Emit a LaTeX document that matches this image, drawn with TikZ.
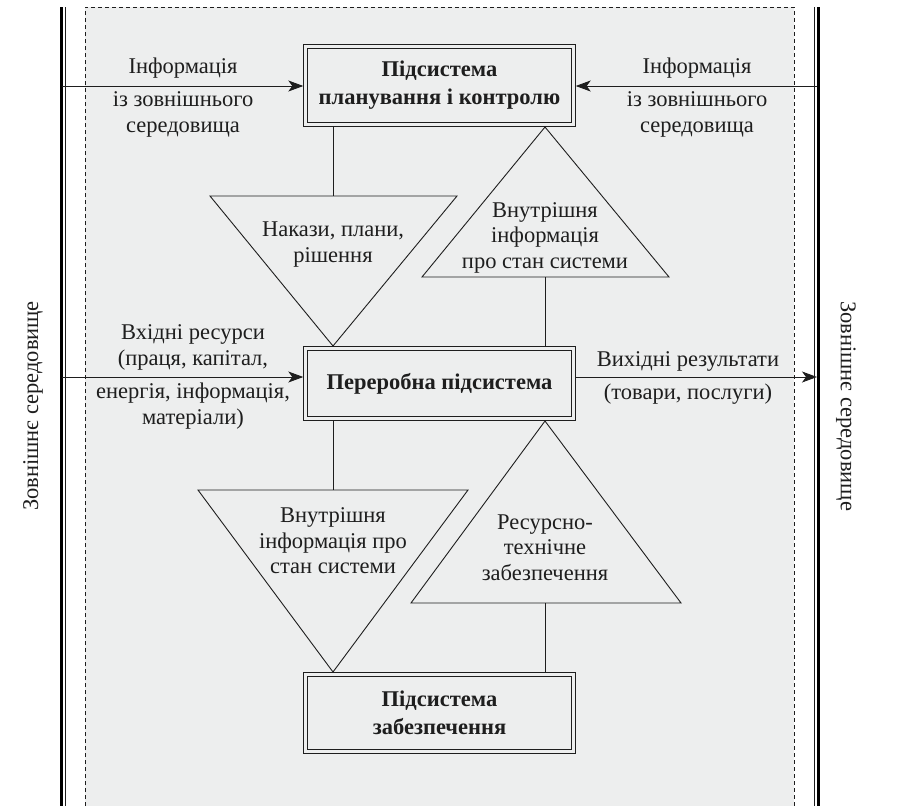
\documentclass[tikz,border=0pt]{standalone}
\usepackage{fontspec}
\setmainfont{Liberation Serif}
\usetikzlibrary{arrows.meta}
\definecolor{ink}{HTML}{1E1E1E}
\definecolor{paper}{HTML}{EDEEEE}
\begin{document}
\begin{tikzpicture}[x=1pt,y=-1pt,
  txt/.style={text=ink,font=\fontsize{22.5}{25.5}\selectfont,align=center,inner sep=0pt},
  boxlbl/.style={draw=ink,double=paper,double distance=3.6pt,line width=0.8pt,
     fill=paper,minimum width=268pt,inner sep=0pt,outer sep=2.2pt,
     text=ink,font=\bfseries\fontsize{22.5}{28}\selectfont,align=center},
  conn/.style={draw=ink,line width=0.9pt},
  arr/.style={conn,-{Stealth[length=15pt,width=11pt,inset=4pt]}},
  tri/.style={draw=ink,line width=0.9pt,line join=miter}]
\useasboundingbox (0,0) rectangle (910,806);
% background
\fill[paper] (85,7) rectangle (794,806);
\draw[ink,line width=0.8pt,dash pattern=on 4pt off 3pt] (85,806) -- (85,7) -- (794,7) -- (794,806);
% outer double lines
\draw[black,line width=3pt] (61,7) -- (61,806);
\draw[ink,line width=0.8pt] (65,7) -- (65,806);
\draw[ink,line width=0.8pt] (814.5,7) -- (814.5,806);
\draw[black,line width=3pt] (818.5,7) -- (818.5,806);
% rotated labels
\node[txt,rotate=90] (envl) at (33,406) {Зовнішнє середовище};
\node[txt,rotate=-90] (envr) at (846,406) {Зовнішнє середовище};
% boxes
\node[boxlbl,minimum height=78pt] (plan) at (439.5,85.5) {Підсистема\\планування і контролю};
\node[boxlbl,minimum height=70pt] (proc) at (439.5,383.5) {Переробна підсистема};
\node[boxlbl,minimum height=77pt] (sup) at (439.5,713) {Підсистема\\забезпечення};
% triangles
\coordinate (t1a) at (210,196); \coordinate (t1b) at (457,196); \coordinate (t1c) at (333,346); \coordinate (t1m) at (333,196);
\coordinate (t2a) at (422,277); \coordinate (t2b) at (669,277); \coordinate (t2c) at (545,127); \coordinate (t2m) at (545,277);
\coordinate (t3a) at (198,490); \coordinate (t3b) at (468,490); \coordinate (t3c) at (333,672); \coordinate (t3m) at (333,490);
\coordinate (t4a) at (411,603); \coordinate (t4b) at (681,603); \coordinate (t4c) at (545,421); \coordinate (t4m) at (545,603);
\draw[tri] (t1a) -- (t1b) -- (t1c) -- cycle;
\draw[tri] (t2a) -- (t2b) -- (t2c) -- cycle;
\draw[tri] (t3a) -- (t3b) -- (t3c) -- cycle;
\draw[tri] (t4a) -- (t4b) -- (t4c) -- cycle;
% connectors
\draw[conn] (plan.south -| t1m) -- (t1m);
\draw[conn] (t2m) -- (proc.north -| t2m);
\draw[conn] (proc.south -| t3m) -- (t3m);
\draw[conn] (t4m) -- (sup.north -| t4m);
% triangle texts
\node[txt] (n1) at (333,244.5) {Накази, плани,\\рішення};
\node[txt] (n2) at (545,237.5) {Внутрішня\\інформація\\про стан системи};
\node[txt] (n3) at (333,541) {Внутрішня\\інформація про\\стан системи};
\node[txt] (n4) at (545,547.5) {Ресурсно-\\технічне\\забезпечення};
% arrows
\coordinate (a1) at (62,86);
\coordinate (a2) at (817,86);
\coordinate (a3) at (62,377);
\coordinate (a4) at (817,377);
\draw[arr] (a1) -- (plan.west |- a1);
\draw[arr] (a2) -- (plan.east |- a2);
\draw[arr] (a3) -- (proc.west |- a3);
\draw[arr] (proc.east |- a4) -- (a4);
% arrow labels
\node[txt] (l1) at (183,68) {Інформація};
\node[txt] (l1b) at (183,114.5) {із зовнішнього\\середовища};
\node[txt] (l2) at (697,68) {Інформація};
\node[txt] (l2b) at (697,114.5) {із зовнішнього\\середовища};
\node[txt] (l3) at (193,347.5) {Вхідні ресурси\\(праця, капітал,};
\node[txt] (l3b) at (193,406) {енергія, інформація,\\матеріали)};
\node[txt] (l4) at (688,361) {Вихідні результати};
\node[txt] (l4b) at (688,394) {(товари, послуги)};
\end{tikzpicture}
\end{document}
